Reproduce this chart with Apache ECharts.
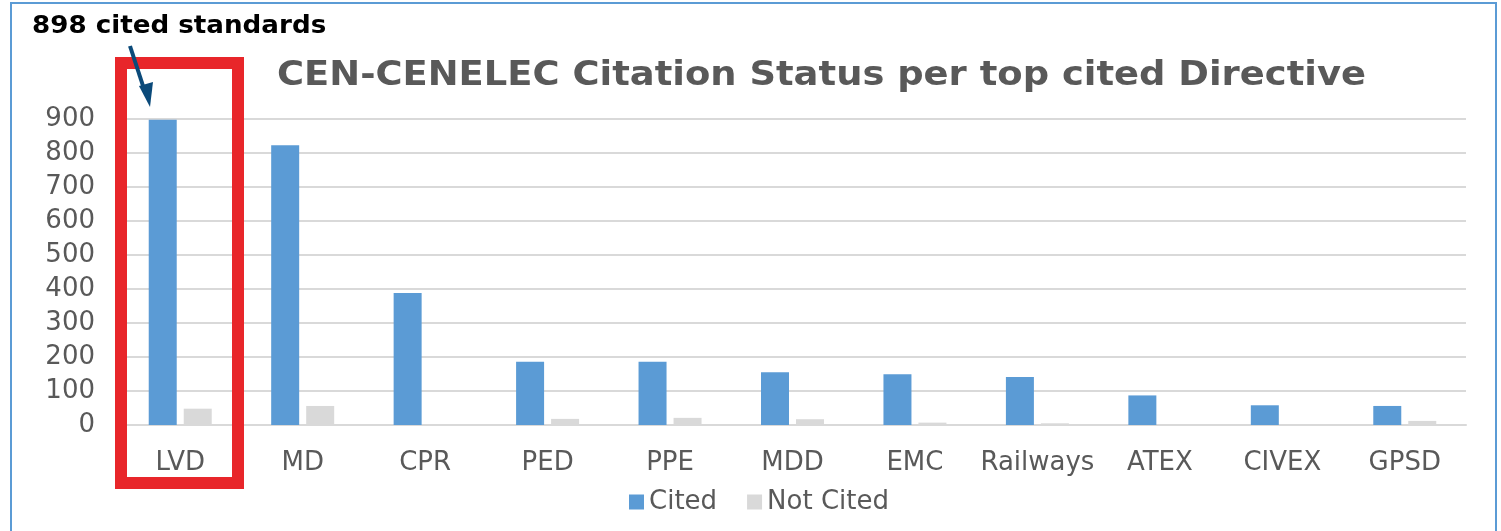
<!DOCTYPE html>
<html>
<head>
<meta charset="utf-8">
<script src="https://cdn.jsdelivr.net/npm/echarts@6/dist/echarts.min.js"></script>
<style>
  html, body { margin: 0; padding: 0; background: #fff; }
  #chart { width: 1501px; height: 531px; }
</style>
</head>
<body>
<div id="chart"></div>
<script>
var directives = ['LVD', 'MD', 'CPR', 'PED', 'PPE', 'MDD', 'EMC', 'Railways', 'ATEX', 'CIVEX', 'GPSD'];
var cited = [898, 823, 388, 186, 186, 155, 149, 141, 87, 58, 56];
var notCited = [48, 56, 0, 18, 21, 17, 7, 5, 2, 0, 12];
var seriesNames = ['Cited', 'Not Cited'];

var font = 'DejaVu Sans';
var grey = '#595959';
var rule = '#d9d9d9';

var chart = echarts.init(document.getElementById('chart'), null, { renderer: 'canvas' });
chart.setOption({
  animation: false,
  textStyle: { fontFamily: font },
  legend: {
    data: seriesNames,
    left: 624, top: 484,
    itemWidth: 15, itemHeight: 15, itemGap: 30,
    icon: 'rect',
    textStyle: { color: grey, fontSize: 26, fontFamily: font }
  },
  grid: { left: 119, right: 35, top: 119, bottom: 106, containLabel: false },
  xAxis: {
    type: 'category', data: directives,
    axisLine: { lineStyle: { color: rule, width: 2 } },
    axisTick: { show: false },
    axisLabel: { color: grey, fontSize: 26, margin: 25, interval: 0, fontFamily: font }
  },
  yAxis: {
    type: 'value', min: 0, max: 900, interval: 100,
    axisLine: { show: false }, axisTick: { show: false },
    axisLabel: { color: grey, fontSize: 26, margin: 24, fontFamily: font },
    splitLine: { lineStyle: { color: rule, width: 2 } }
  },
  series: [
    { name: seriesNames[0], type: 'bar', data: cited, barWidth: 28, barGap: '25%',
      itemStyle: { color: '#5b9bd5' } },
    { name: seriesNames[1], type: 'bar', data: notCited, barWidth: 28,
      itemStyle: { color: '#d9d9d9' } }
  ],
  graphic: [
    { type: 'rect', shape: { x: 11, y: 3, width: 1485, height: 540 },
      style: { fill: 'none', stroke: '#5b9bd5', lineWidth: 2 }, z: 100 },
    { type: 'text', x: 277, y: 59, scaleX: 1.085,
      style: { text: 'CEN-CENELEC Citation Status per top cited Directive', fill: grey,
        font: 'bold 34px "DejaVu Sans"' }, z: 100 },
    { type: 'rect', shape: { x: 121, y: 63, width: 117, height: 420 },
      style: { fill: 'none', stroke: '#e8262a', lineWidth: 12 }, z: 100 },
    { type: 'text', x: 32, y: 15, scaleX: 1.09,
      style: { text: '898 cited standards', fill: '#000', font: 'bold 24px "DejaVu Sans"' }, z: 100 },
    { type: 'line', shape: { x1: 130, y1: 46, x2: 145, y2: 92 },
      style: { stroke: '#0b4a7a', lineWidth: 4 }, z: 100 },
    { type: 'polygon', shape: { points: [[150, 107], [139, 86], [153, 82]] },
      style: { fill: '#0b4a7a' }, z: 100 }
  ]
});
window.addEventListener('resize', function() { chart.resize(); });
</script>
</body>
</html>
